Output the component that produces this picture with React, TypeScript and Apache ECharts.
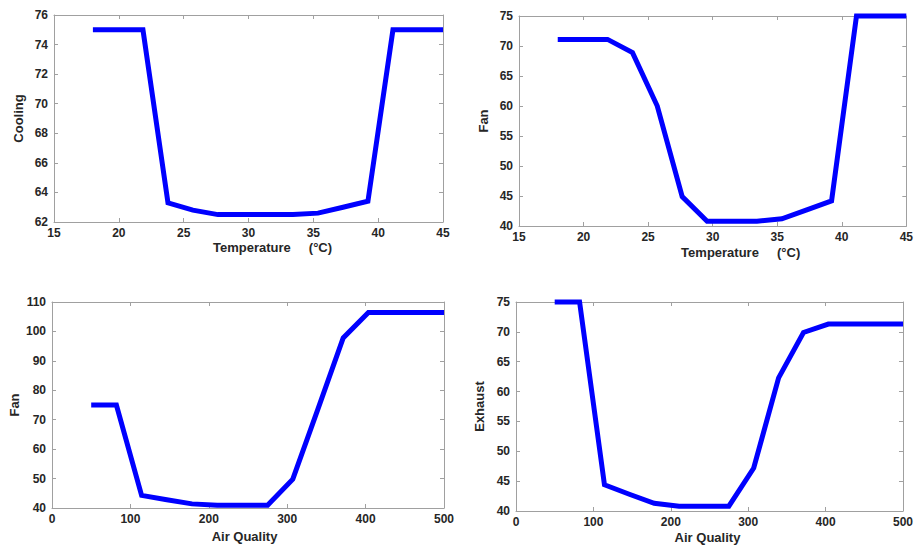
import React, { useEffect, useRef } from "react";
import * as echarts from "echarts";

// ---- data ----
const tempX = [18, 19.93, 21.86, 23.79, 25.71, 27.64, 29.57, 31.5, 33.43, 35.36, 37.29, 39.21, 41.14, 43.07, 45];
const coolingY = [75, 75, 75, 63.3, 62.8, 62.5, 62.5, 62.5, 62.5, 62.6, 63.0, 63.4, 75, 75, 75];
const fanTempY = [71.1, 71.1, 71.1, 68.9, 60, 44.9, 40.8, 40.8, 40.8, 41.2, 42.7, 44.2, 75, 75, 75];

const aqX = [50, 82.14, 114.29, 146.43, 178.57, 210.71, 242.86, 275, 307.14, 339.29, 371.43, 403.57, 435.71, 467.86, 500];
const fanAqY = [75, 75, 44.3, 42.8, 41.4, 40.9, 40.9, 40.9, 49.8, 73.7, 97.8, 106.4, 106.4, 106.4, 106.4];
const exhaustY = [75, 75, 44.4, 42.8, 41.3, 40.8, 40.8, 40.8, 47.2, 62.3, 69.9, 71.3, 71.3, 71.3, 71.3];

const tempName = "Temperature\u00a0\u00a0\u00a0\u00a0\u00a0(°C)";
const aqName = "Air Quality";

const FONT = "'Liberation Sans', Arial, sans-serif";
const FRAME = "#a0a0a0";
const LABEL = "#262626";

type Panel = {
  grid: { left: number; top: number; width: number; height: number };
  x: number[];
  y: number[];
  xMin: number; xMax: number; xInt: number;
  yMin: number; yMax: number; yInt: number;
  xName: string; yName: string;
  xNameGap: number; yNameGap: number; xNamePad: number[];
};

const panels: Panel[] = [
  { grid: { left: 54, top: 15, width: 389, height: 207 }, x: tempX, y: coolingY,
    xMin: 15, xMax: 45, xInt: 5, yMin: 62, yMax: 76, yInt: 2,
    xName: tempName, yName: "Cooling", xNameGap: 19, yNameGap: 29, xNamePad: [0, 0, 0, 48] },
  { grid: { left: 519, top: 16, width: 388, height: 210 }, x: tempX, y: fanTempY,
    xMin: 15, xMax: 45, xInt: 5, yMin: 40, yMax: 75, yInt: 5,
    xName: tempName, yName: "Fan", xNameGap: 20, yNameGap: 29, xNamePad: [0, 0, 0, 56] },
  { grid: { left: 52, top: 302, width: 392, height: 206 }, x: aqX, y: fanAqY,
    xMin: 0, xMax: 500, xInt: 100, yMin: 40, yMax: 110, yInt: 10,
    xName: aqName, yName: "Fan", xNameGap: 22, yNameGap: 31, xNamePad: [0, 7, 0, 0] },
  { grid: { left: 516, top: 302, width: 392, height: 209 }, x: aqX, y: exhaustY,
    xMin: 0, xMax: 500, xInt: 100, yMin: 40, yMax: 75, yInt: 5,
    xName: aqName, yName: "Exhaust", xNameGap: 20, yNameGap: 30, xNamePad: [0, 4, 0, 0] },
];

function buildOption() {
  const grids: any[] = [];
  const xAxes: any[] = [];
  const yAxes: any[] = [];
  const series: any[] = [];
  const line = { show: true, onZero: false, lineStyle: { color: FRAME, width: 1 } };
  const tick = { show: true, inside: true, length: 4, lineStyle: { color: FRAME, width: 1 } };
  const label = { color: LABEL, fontWeight: "bold", fontSize: 12, fontFamily: FONT };
  const nameStyle = { color: LABEL, fontWeight: "bold", fontSize: 13, fontFamily: FONT };
  panels.forEach((p, i) => {
    grids.push({ ...p.grid, containLabel: false });
    xAxes.push({
      type: "value", gridIndex: i, position: "bottom", min: p.xMin, max: p.xMax, interval: p.xInt,
      axisLine: line, axisTick: tick, splitLine: { show: false },
      axisLabel: { ...label, margin: 5 },
      name: p.xName, nameLocation: "middle", nameGap: p.xNameGap,
      nameTextStyle: { ...nameStyle, padding: p.xNamePad },
    });
    xAxes.push({
      type: "value", gridIndex: i, position: "top", min: p.xMin, max: p.xMax, interval: p.xInt,
      axisLine: line, axisTick: tick, splitLine: { show: false }, axisLabel: { show: false },
    });
    yAxes.push({
      type: "value", gridIndex: i, position: "left", min: p.yMin, max: p.yMax, interval: p.yInt,
      axisLine: line, axisTick: tick, splitLine: { show: false },
      axisLabel: { ...label, margin: 6 },
      name: p.yName, nameLocation: "middle", nameGap: p.yNameGap, nameRotate: 90,
      nameTextStyle: nameStyle,
    });
    yAxes.push({
      type: "value", gridIndex: i, position: "right", min: p.yMin, max: p.yMax, interval: p.yInt,
      axisLine: line, axisTick: tick, splitLine: { show: false }, axisLabel: { show: false },
    });
    series.push({
      type: "line", xAxisIndex: 2 * i, yAxisIndex: 2 * i,
      data: p.x.map((xv, k) => [xv, p.y[k]]),
      showSymbol: false, symbol: "none",
      lineStyle: { color: "#0000ff", width: 5, join: "miter" },
      itemStyle: { color: "#0000ff" },
      clip: false,
    });
  });
  return {
    animation: false,
    backgroundColor: "#ffffff",
    grid: grids,
    xAxis: xAxes,
    yAxis: yAxes,
    series,
  };
}

export default function App() {
  const ref = useRef<HTMLDivElement>(null);
  useEffect(() => {
    if (!ref.current) return;
    const chart = echarts.init(ref.current, undefined, { renderer: "svg" });
    chart.setOption(buildOption());
    return () => chart.dispose();
  }, []);
  return (
    <div
      ref={ref}
      style={{ position: "fixed", left: 0, top: 0, width: 916, height: 547, background: "#fff" }}
    />
  );
}
